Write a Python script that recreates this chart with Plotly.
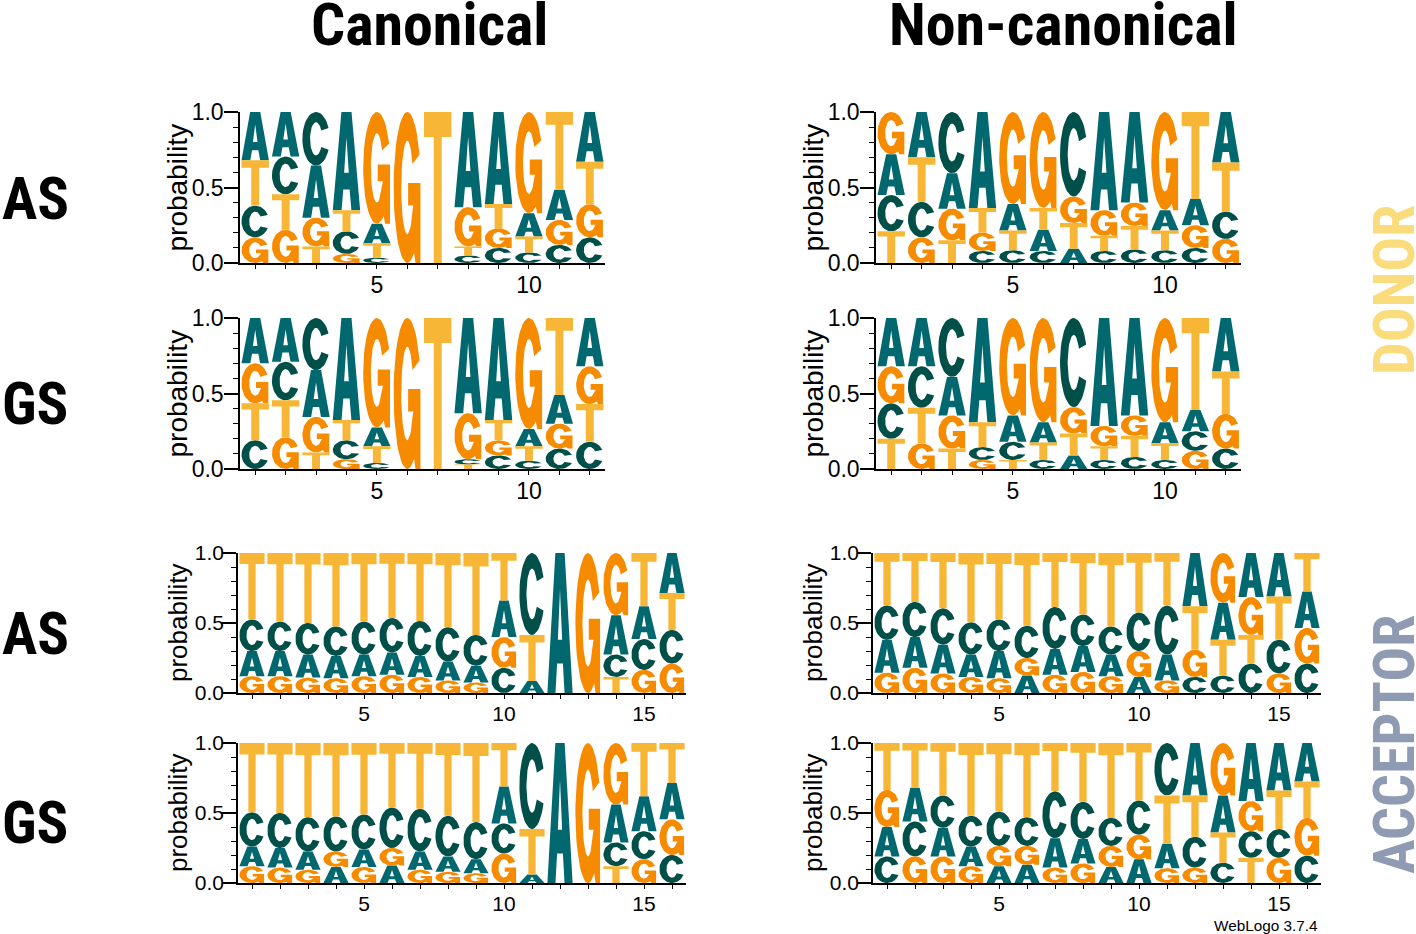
import numpy as np
import plotly.graph_objects as go

W, H = 1416, 934
BASES = ["A", "C", "G", "T"]
COLORS = {"A": "#02686F", "C": "#004F49", "G": "#F68B00", "T": "#F7B635"}
FONT_SANS = "Liberation Sans, Arial, sans-serif"
FONT_COND = "Roboto Condensed, Open Sans Condensed, DejaVu Sans Condensed, sans-serif"

COLUMN_TITLES = ["Canonical", "Non-canonical"]
ROW_LABELS = ["AS", "GS", "AS", "GS"]
SIDE_LABELS = ["DONOR", "ACCEPTOR"]
Y_TICKS = [0.0, 0.5, 1.0]
X_LABELLED = [5, 10, 15]

# letters in each stack, bottom to top, and their probabilities
CAN_DONOR_AS_SEQ = ["GCTA", "GTCA", "TGAC", "GCTA", "CTAG", "G", "T", "CTGA", "CGTA", "CTAG", "CGAT", "CGTA"]
CAN_DONOR_AS_VAL = [[.17, .21, .30, .32], [.22, .235, .25, .295], [.11, .19, .345, .355], [.06, .15, .14, .65],
                    [.035, .095, .13, .74], [1], [1], [.05, .06, .26, .63], [.10, .13, .16, .61],
                    [.07, .105, .155, .67], [.12, .165, .20, .515], [.17, .22, .28, .33]]
CAN_DONOR_GS_SEQ = ["CTGA", "GTCA", "TGAC", "GCTA", "CTAG", "G", "T", "TCGA", "CGTA", "CTAG", "CGAT", "CTGA"]
CAN_DONOR_GS_VAL = [[.19, .245, .265, .30], [.21, .245, .255, .29], [.11, .235, .31, .345], [.065, .125, .135, .675],
                    [.04, .11, .125, .725], [1], [1], [.03, .035, .305, .63], [.09, .10, .135, .675],
                    [.055, .095, .115, .735], [.135, .165, .19, .51], [.18, .25, .25, .32]]
NON_DONOR_AS_SEQ = ["TCAG", "GCTA", "TGAC", "CGTA", "CTAG", "CATG", "ATGC", "CTGA", "CTGA", "CTAG", "CGAT", "GCTA"]
NON_DONOR_AS_VAL = [[.21, .24, .27, .28], [.17, .235, .295, .30], [.15, .21, .235, .405], [.08, .12, .165, .635],
                    [.085, .13, .175, .61], [.08, .14, .145, .635], [.095, .17, .175, .56], [.08, .10, .17, .65],
                    [.09, .155, .155, .60], [.085, .13, .135, .65], [.10, .15, .175, .575], [.16, .18, .325, .335]]
NON_DONOR_GS_SEQ = ["TCGA", "GTCA", "TGAC", "GCTA", "TCAG", "CTAG", "ATGC", "CTGA", "CTGA", "CTAG", "GCAT", "CGTA"]
NON_DONOR_GS_VAL = [[.20, .235, .245, .32], [.17, .235, .275, .32], [.135, .22, .255, .39], [.06, .085, .165, .69],
                    [.06, .12, .175, .645], [.06, .115, .135, .69], [.09, .145, .175, .59], [.06, .09, .135, .715],
                    [.08, .14, .135, .645], [.06, .11, .14, .69], [.12, .13, .14, .61], [.135, .23, .28, .355]]
CAN_ACC_AS_SEQ = ["GACT"] * 9 + ["CGAT", "ATC", "A", "G", "TCAG", "GCAT", "GCTA"]
CAN_ACC_AS_VAL = [[.12, .18, .225, .475], [.12, .18, .21, .49], [.11, .165, .225, .50], [.105, .16, .21, .525],
                  [.12, .155, .235, .49], [.13, .16, .245, .465], [.115, .15, .25, .485], [.09, .135, .245, .53],
                  [.075, .12, .22, .585], [.18, .22, .26, .34], [.085, .33, .585], [1], [1],
                  [.115, .16, .28, .445], [.165, .22, .235, .38], [.21, .24, .265, .285]]
CAN_ACC_GS_SEQ = ["GACT", "GACT", "GACT", "AGCT", "GACT", "AGCT", "GACT", "GACT", "GACT", "GCAT", "ATC", "A", "G",
                  "TCAG", "GCAT", "CGAT"]
CAN_ACC_GS_VAL = [[.12, .14, .245, .495], [.11, .14, .25, .50], [.095, .13, .245, .53], [.115, .11, .25, .525],
                  [.115, .125, .25, .51], [.125, .125, .29, .46], [.095, .13, .305, .47], [.08, .11, .29, .52],
                  [.07, .10, .265, .565], [.21, .215, .265, .31], [.06, .325, .615], [1], [1],
                  [.12, .17, .27, .44], [.17, .20, .25, .38], [.20, .255, .26, .285]]
NON_ACC_AS_SEQ = ["GACT", "GACT", "GACT", "GACT", "GACT", "AGCT", "GACT", "GACT", "GACT", "AGCT", "GACT",
                  "CGTA", "CTAG", "CTGA", "GCTA", "CGAT"]
NON_ACC_AS_VAL = [[.145, .235, .245, .375], [.18, .22, .25, .35], [.14, .205, .26, .395], [.115, .16, .23, .495],
                  [.105, .195, .225, .475], [.125, .125, .23, .52], [.13, .185, .30, .385], [.15, .185, .225, .44],
                  [.12, .155, .20, .525], [.115, .185, .275, .425], [.09, .185, .35, .375], [.115, .195, .31, .38],
                  [.125, .255, .265, .355], [.21, .205, .27, .315], [.14, .24, .31, .31], [.21, .255, .26, .275]]
NON_ACC_GS_SEQ = ["CAGT", "GCAT", "GACT", "GACT", "AGCT", "AGCT", "GACT", "GACT", "AGCT", "AGCT", "GATC",
                  "GCTA", "CTAG", "TCGA", "GCTA", "CGTA"]
NON_ACC_GS_VAL = [[.19, .21, .265, .335], [.19, .25, .24, .32], [.19, .205, .23, .375], [.12, .14, .22, .52],
                  [.12, .145, .245, .49], [.13, .135, .205, .53], [.11, .21, .335, .345], [.14, .175, .265, .42],
                  [.115, .15, .20, .535], [.17, .175, .245, .41], [.105, .175, .345, .375], [.11, .22, .295, .375],
                  [.145, .215, .265, .375], [.18, .19, .215, .415], [.18, .205, .275, .34], [.195, .27, .26, .275]]


def arc(cx, cy, rx, ry, start, stop, n=40):
    t = np.radians(np.linspace(start, stop, n))
    return np.column_stack([cx + rx * np.cos(t), cy + ry * np.sin(t)])


def glyph_outlines():
    """Letter outlines in a unit box; holes run against the outer winding."""
    a_outer = np.array([[0, 0], [.32, 0], [.385, .21], [.615, .21], [.68, 0], [1, 0], [.685, 1], [.315, 1]])
    a_hole = np.array([[.415, .38], [.5, .74], [.585, .38]])
    t = np.array([[0, 1], [1, 1], [1, .835], [.645, .835], [.645, 0], [.355, 0], [.355, .835], [0, .835]])
    c = np.vstack([arc(.5, .5, .5, .5, 24, 336), arc(.5, .5, .22, .31, 330, 30)])
    g = np.vstack([
        arc(.5, .5, .5, .5, 26, 300),
        [[.80, .0], [.98, .0], [.98, .53], [.53, .53], [.53, .38], [.72, .38]],
        arc(.5, .5, .22, .31, -30, -330),
    ])
    return {"A": [a_outer, a_hole], "C": [c], "G": [g], "T": [t]}


GLYPHS = glyph_outlines()
LETTER_WIDTH = 0.9


def logo_traces(seqs, vals, xname, yname):
    xs = {b: [] for b in BASES}
    ys = {b: [] for b in BASES}
    for pos, (seq, val) in enumerate(zip(seqs, vals), start=1):
        v = np.asarray(val, float)
        v = v / v.sum()
        bottom = 0.0
        for letter, height in zip(seq, v):
            for loop in GLYPHS[letter]:
                xs[letter] += list(pos + (loop[:, 0] - .5) * LETTER_WIDTH) + [None]
                ys[letter] += list(bottom + loop[:, 1] * height) + [None]
            bottom += height
    return [go.Scatter(x=xs[b], y=ys[b], mode="lines", fill="toself", fillcolor=COLORS[b],
                       line=dict(width=0, color=COLORS[b]), name=b, showlegend=False,
                       hoverinfo="name", xaxis=xname, yaxis=yname) for b in BASES if xs[b]]


# panel frames in figure pixels: left, right, top (1.0), bottom (0.0), sizes, title offset
PANELS = [
    (CAN_DONOR_AS_SEQ, CAN_DONOR_AS_VAL, 240, 605, 112, 263, 28, 23, 63, -4),
    (NON_DONOR_AS_SEQ, NON_DONOR_AS_VAL, 876, 1241, 112, 263, 28, 23, 63, -4),
    (CAN_DONOR_GS_SEQ, CAN_DONOR_GS_VAL, 240, 605, 318, 469, 28, 23, 63, -4),
    (NON_DONOR_GS_SEQ, NON_DONOR_GS_VAL, 876, 1241, 318, 469, 28, 23, 63, -4),
    (CAN_ACC_AS_SEQ, CAN_ACC_AS_VAL, 238, 686, 553, 693, 26, 21, 60, -6),
    (NON_ACC_AS_SEQ, NON_ACC_AS_VAL, 873, 1321, 553, 693, 26, 21, 60, -6),
    (CAN_ACC_GS_SEQ, CAN_ACC_GS_VAL, 238, 686, 743, 883, 26, 21, 60, -6),
    (NON_ACC_GS_SEQ, NON_ACC_GS_VAL, 873, 1321, 743, 883, 26, 21, 60, -6),
]

fig = go.Figure()
annotations = []


def note(text, px, py, size, color="black", family=FONT_SANS, weight="normal", angle=0):
    annotations.append(dict(text=text, x=px / W, y=1 - py / H, xref="paper", yref="paper",
                            showarrow=False, textangle=angle, xanchor="center", yanchor="middle",
                            font=dict(size=size, color=color, family=family, weight=weight)))


layout_axes = {}
for i, (seq, val, left, right, top, bottom, title_size, tick_size, offset, standoff) in enumerate(PANELS, start=1):
    xn, yn = f"x{i}", f"y{i}"
    fig.add_traces(logo_traces(seq, val, xn, yn))
    n = len(seq)
    positions = list(range(1, n + 1))
    layout_axes[f"xaxis{i}"] = dict(
        domain=[left / W, right / W], range=[.5, n + .5], anchor=yn, showgrid=False, zeroline=False,
        showline=True, linecolor="black", linewidth=1.5, ticks="outside", ticklen=4, tickwidth=1.2,
        tickcolor="black", tickmode="array", tickvals=positions,
        ticktext=[str(p) if p in X_LABELLED else "" for p in positions],
        tickangle=0, ticklabelstandoff=-3, tickfont=dict(size=tick_size, family=FONT_SANS, color="black"),
    )
    layout_axes[f"yaxis{i}"] = dict(
        domain=[1 - bottom / H, 1 - top / H], range=[0, 1], anchor=xn, showgrid=False, zeroline=False,
        showline=True, linecolor="black", linewidth=1.5, ticks="outside", ticklen=14, tickwidth=1.5,
        tickcolor="black", tickmode="array", tickvals=Y_TICKS, ticktext=[f"{t:.1f}" for t in Y_TICKS],
        minor=dict(dtick=.1, ticks="outside", ticklen=5, tickwidth=1.2, tickcolor="black", showgrid=False),
        ticklabelstandoff=standoff, tickfont=dict(size=tick_size, family=FONT_SANS, color="black"),
    )
    note("probability", left - offset, (top + bottom) / 2, title_size, angle=-90)

note(COLUMN_TITLES[0], 429, 25, 60, family=FONT_COND, weight="bold")
note(COLUMN_TITLES[1], 1063, 25, 60, family=FONT_COND, weight="bold")
for label, py in zip(ROW_LABELS, [198, 404, 633, 822]):
    note(label, 35, py, 59, family=FONT_COND, weight="bold")
note(SIDE_LABELS[0], 1394, 290, 58, color="#FBDC7D", family=FONT_COND, weight="bold", angle=-90)
note(SIDE_LABELS[1], 1394, 745, 58, color="#8F9BB3", family=FONT_COND, weight="bold", angle=-90)
note("WebLogo 3.7.4", 1266, 925, 15.3)

fig.update_layout(width=W, height=H, margin=dict(l=0, r=0, t=0, b=0, autoexpand=False), paper_bgcolor="white",
                  plot_bgcolor="rgba(0,0,0,0)", annotations=annotations, showlegend=False, **layout_axes)

fig.write_html("out.html", config={"displayModeBar": False},
               post_script="document.body.style.margin='0';document.documentElement.style.overflow='hidden';")
